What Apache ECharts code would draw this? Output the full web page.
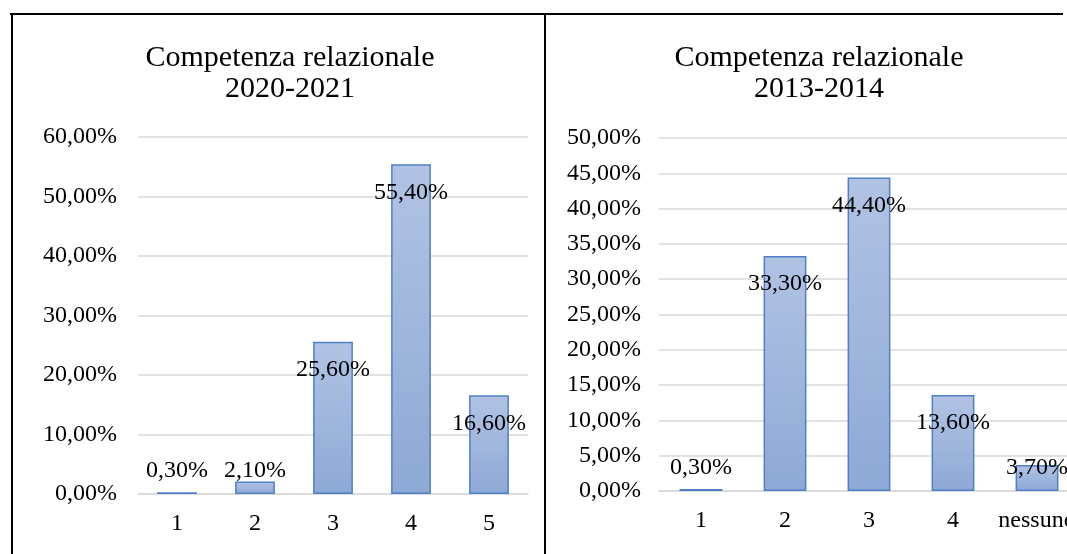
<!DOCTYPE html>
<html>
<head>
<meta charset="utf-8">
<script src="https://cdn.jsdelivr.net/npm/echarts@6/dist/echarts.min.js"></script>
<style>
  html, body { margin: 0; padding: 0; background: #fff; }
  #wrap { position: relative; width: 1067px; height: 554px; overflow: hidden; }
  #chart { position: absolute; left: 0; top: 0; width: 1067px; height: 554px; }
  .ln { position: absolute; background: #000; }
</style>
</head>
<body>
<div id="wrap">
  <div id="chart"></div>
  <div class="ln" style="left:10px; top:13px; width:1053px; height:1.5px;"></div>
  <div class="ln" style="left:11px; top:13px; width:1.5px; height:541px;"></div>
  <div class="ln" style="left:544px; top:13px; width:1.5px; height:541px;"></div>
</div>
<script>
// ---- data ----
const titleLeft = 'Competenza relazionale\n2020-2021';
const titleRight = 'Competenza relazionale\n2013-2014';
const catsLeft = ['1', '2', '3', '4', '5'];
const valsLeft = [0.30, 2.10, 25.60, 55.40, 16.60];
const catsRight = ['1', '2', '3', '4', 'nessuno'];
const valsRight = [0.30, 33.30, 44.40, 13.60, 3.70];
const yMaxLeft = 60, yStepLeft = 10;
const yMaxRight = 50, yStepRight = 5;

// ---- styling ----
const FONT = '"Liberation Serif", "Times New Roman", serif';
const TXT = '#000';
const fmt = v => Number(v).toFixed(2).replace('.', ',') + '%';

function barData(vals) {
  return vals.map(v => ({
    value: v,
    label: v < 5 ? { position: 'insideBottom', distance: 11 } : { position: 'insideTop', distance: 16 }
  }));
}

const barStyle = {
  color: new echarts.graphic.LinearGradient(0, 0, 0, 1, [
    { offset: 0, color: '#b1c3e3' },
    { offset: 1, color: '#8ea9d6' }
  ]),
  borderColor: '#4f80c5',
  borderWidth: 1.5
};

function xAxis(idx, cats) {
  return {
    type: 'category', gridIndex: idx, data: cats,
    axisLine: { show: true, lineStyle: { color: '#d9d9d9', width: 1.5 } },
    axisTick: { show: false },
    axisLabel: { color: TXT, fontFamily: FONT, fontSize: 24, lineHeight: 24, margin: 18, interval: 0 },
    splitLine: { show: false }
  };
}
function yAxis(idx, max, step, margin) {
  return {
    type: 'value', gridIndex: idx, min: 0, max: max, interval: step,
    axisLine: { show: false }, axisTick: { show: false },
    axisLabel: { color: TXT, fontFamily: FONT, fontSize: 24, margin: margin, formatter: fmt },
    splitLine: { lineStyle: { color: '#d9d9d9', width: 1.5 } }
  };
}
function series(idx, vals) {
  return {
    type: 'bar', xAxisIndex: idx, yAxisIndex: idx,
    data: barData(vals), barWidth: '51%',
    itemStyle: barStyle,
    label: { show: true, color: TXT, fontFamily: FONT, fontSize: 24, lineHeight: 24, formatter: p => fmt(p.value) },
    animation: false
  };
}

const chart = echarts.init(document.getElementById('chart'), null, { renderer: 'canvas' });
chart.setOption({
  animation: false,
  title: [
    { text: titleLeft, left: 290, top: 43, padding: 0, textAlign: 'center',
      textStyle: { fontFamily: FONT, fontSize: 30, lineHeight: 31, fontWeight: 'normal', color: TXT } },
    { text: titleRight, left: 819, top: 43, padding: 0, textAlign: 'center',
      textStyle: { fontFamily: FONT, fontSize: 30, lineHeight: 31, fontWeight: 'normal', color: TXT } }
  ],
  grid: [
    { left: 138, top: 137, width: 390, height: 357, containLabel: false, outerBoundsMode: 'none' },
    { left: 659, top: 138, width: 420, height: 353, containLabel: false, outerBoundsMode: 'none' }
  ],
  xAxis: [xAxis(0, catsLeft), xAxis(1, catsRight)],
  yAxis: [yAxis(0, yMaxLeft, yStepLeft, 21), yAxis(1, yMaxRight, yStepRight, 18)],
  series: [series(0, valsLeft), series(1, valsRight)]
});
</script>
</body>
</html>
